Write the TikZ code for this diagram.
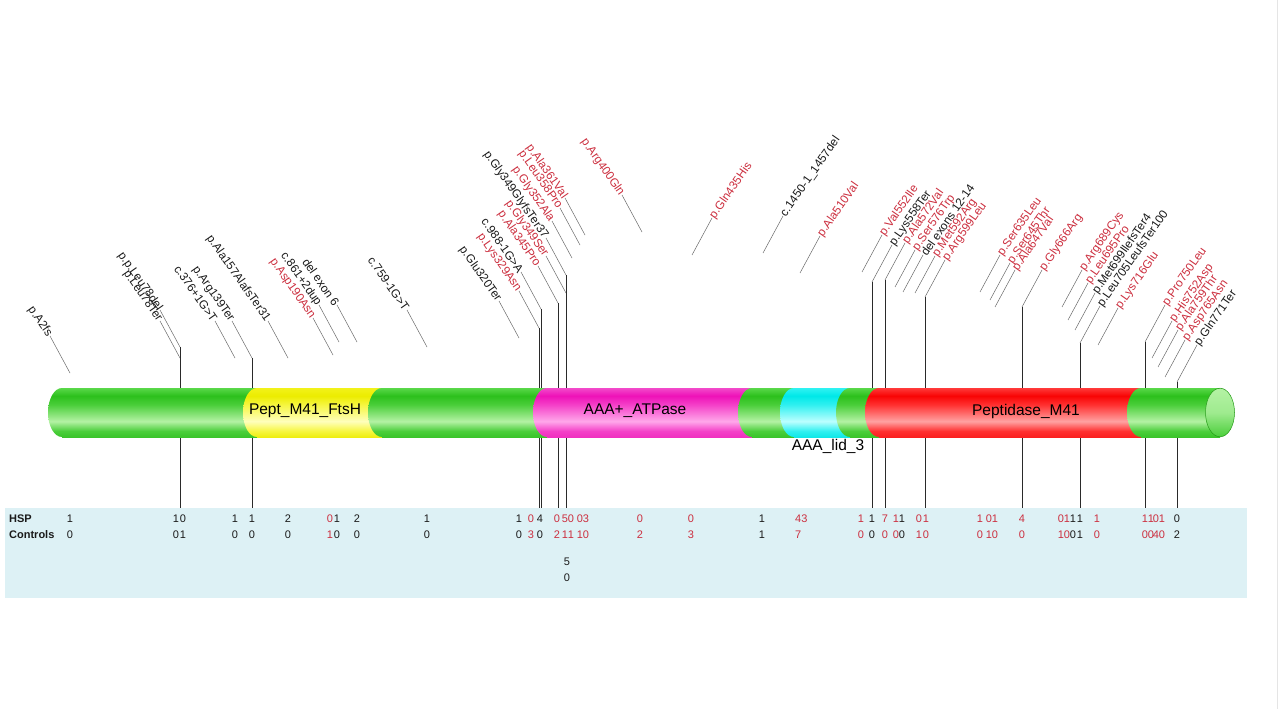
\documentclass[tikz,border=0pt]{standalone}
\usepackage{fontspec}
\setmainfont{Liberation Sans}
\newcommand\labfont{\fontsize{11.8}{14}\selectfont}
\newcommand\domfont{\fontsize{15.5}{18}\selectfont}
\newcommand\numfont{\fontsize{11}{13}\selectfont}
\definecolor{labblack}{HTML}{1A1A1A}
\definecolor{mutred}{HTML}{CC2F3F}
\definecolor{leadgray}{HTML}{6A6A6A}
\definecolor{vgray}{HTML}{2A2A2A}
\definecolor{tabbg}{HTML}{DDF1F5}
% bar colours
\definecolor{gT}{HTML}{5AD84A}\definecolor{gD}{HTML}{2CC01C}\definecolor{gM}{HTML}{4ACE3A}\definecolor{gL}{HTML}{B4F2A4}\definecolor{gB}{HTML}{3AC42A}
\definecolor{yT}{HTML}{F2F21A}\definecolor{yD}{HTML}{ECEC00}\definecolor{yM}{HTML}{F6F640}\definecolor{yL}{HTML}{FFFFBC}\definecolor{yB}{HTML}{EEEE10}
\definecolor{mT}{HTML}{F24ACA}\definecolor{mD}{HTML}{EE12B8}\definecolor{mM}{HTML}{F440C8}\definecolor{mL}{HTML}{FFA8EA}\definecolor{mB}{HTML}{F030C0}
\definecolor{cT}{HTML}{30F2F2}\definecolor{cD}{HTML}{00E8E8}\definecolor{cM}{HTML}{30F0F0}\definecolor{cL}{HTML}{BCFFFF}\definecolor{cB}{HTML}{10E8E8}
\definecolor{rT}{HTML}{FF3A3A}\definecolor{rD}{HTML}{F80404}\definecolor{rM}{HTML}{FF3030}\definecolor{rL}{HTML}{FFA2A2}\definecolor{rB}{HTML}{FA2020}
\newcommand\mkshading[1]{%
  \pgfdeclareverticalshading{sh#1}{100bp}{color(0bp)=(#1B); color(25bp)=(#1B); color(31bp)=(#1M); color(41bp)=(#1L); color(58bp)=(#1M); color(67bp)=(#1D); color(75bp)=(#1T); color(100bp)=(#1T)}}
\mkshading{g}\mkshading{y}\mkshading{m}\mkshading{c}\mkshading{r}
\tikzset{
  lead/.style={draw=leadgray, line width=0.5pt},
  vertl/.style={draw=vgray, line width=1pt},
  labL/.style={font=\labfont, rotate=-55, anchor=east, inner sep=0.5pt, text=labblack},
  labR/.style={font=\labfont, rotate=55, anchor=west, inner sep=0.5pt, text=labblack},
  mr/.style={text=mutred},
  num/.style={font=\numfont, inner sep=0pt, anchor=center, text=labblack},
  dom/.style={font=\domfont, inner sep=0pt, text=black},
}
% label reading down-right, leader from (x,y) up-left to its end
\newcommand\mutL[5][]{%
  \coordinate (#2-p) at (#3,#4);
  \node[labL,#1] (#2) at (#3-20,#4-37) {#5};
  \draw[lead] (#2-p) -- (#2.east);}
% label reading up-right, leader from (x,y) up-right to its start
\newcommand\mutR[5][]{%
  \coordinate (#2-p) at (#3,#4);
  \node[labR,#1] (#2) at (#3+20,#4-37) {#5};
  \draw[lead] (#2-p) -- (#2.west);}
\newcommand\vln[1]{\draw[vertl] (#1-p) -- (#1-p |- tabtop);}
\newcommand\seg[3]{%
  \shade[shading=sh#1] (#2,388) rectangle (#3,437);
  \shade[shading=sh#1] (#2,412.5) ellipse [x radius=14, y radius=24.5];}
\newcommand\tabe[4][]{%
  \node[num,#1] (h#2) at (#2,519) {#3};
  \node[num,#1] (c#2) at (#2,535) {#4};}
\begin{document}
\begin{tikzpicture}[x=1pt,y=-1pt]
\useasboundingbox (0,0) rectangle (1280,709);
\fill[white] (0,0) rectangle (1280,709);
\draw[gray!20, line width=0.8pt] (1277,0) -- (1277,709);
\coordinate (tabtop) at (0,508);
% table background
\fill[tabbg] (5,508) rectangle (1247,598);
% ---- left labels ----
\mutL{a2}{70}{373}{p.A2fs}
\mutL{leu78del}{180}{347}{p.p.Leu78del}
\mutL{leu78ter}{180}{358}{p.Leu78Ter}
\mutL{c376}{235}{358}{c.376+1G>T}
\mutL{arg139}{252}{358}{p.Arg139Ter}
\mutL{ala157}{288}{358}{p.Ala157AlafsTer31}
\mutL[mr]{asp190}{333}{355}{p.Asp190Asn}
\mutL{c861}{339}{342}{c.861+2dup}
\mutL{delex6}{357}{342}{del exon 6}
\mutL{c759}{427}{347}{c.759-1G>T}
\mutL{glu320}{519}{338}{p.Glu320Ter}
\mutL[mr]{lys329}{539}{328}{p.Lys329Asn}
\mutL{c988}{541}{309}{c.988-1G>A}
\mutL[mr]{ala345}{558}{303}{p.Ala345Pro}
\mutL[mr]{gly349ser}{566}{293}{p.Gly349Ser}
\mutL{gly349fs}{566}{275}{p.Gly349GlyfsTer37}
\mutL[mr]{gly352}{572}{258}{p.Gly352Ala}
\mutL[mr]{leu358}{580}{245}{p.Leu358Pro}
\mutL[mr]{ala361}{585}{235}{p.Ala361Val}
\mutL[mr]{arg400}{642}{232}{p.Arg400Gln}
% ---- right labels ----
\mutR[mr]{gln435}{692}{255}{p.Gln435His}
\mutR{c1450}{763}{253}{c.1450-1\_1457del}
\mutR[mr]{ala510}{800}{273}{p.Ala510Val}
\mutR[mr]{val552}{862}{272}{p.Val552Ile}
\mutR{lys558}{872}{282}{p.Lys558Ter}
\mutR[mr]{ala572}{885}{280}{p.Ala572Val}
\mutR[mr]{ser576}{895}{287}{p.Ser576Trp}
\mutR{delex12}{903}{292}{del exons 12-14}
\mutR[mr]{met592}{915}{293}{p.Met592Arg}
\mutR[mr]{arg599}{925}{297}{p.Arg599Leu}
\mutR[mr]{ser635}{980}{292}{p.Ser635Leu}
\mutR[mr]{ser645}{990}{300}{p.Ser645Thr}
\mutR[mr]{ala647}{995}{307}{p.Ala647Val}
\mutR[mr]{gly666}{1022}{307}{p.Gly666Arg}
\mutR[mr]{arg689}{1062}{307}{p.Arg689Cys}
\mutR[mr]{leu695}{1068}{320}{p.Leu695Pro}
\mutR{met699}{1075}{330}{p.Met699IlefsTer4}
\mutR{leu705}{1080}{343}{p.Leu705LeufsTer100}
\mutR[mr]{lys716}{1098}{345}{p.Lys716Glu}
\mutR[mr]{pro750}{1145}{342}{p.Pro750Leu}
\mutR[mr]{his752}{1152}{358}{p.His752Asp}
\mutR[mr]{ala759}{1158}{367}{p.Ala759Thr}
\mutR[mr]{asp765}{1165}{377}{p.Asp765Asn}
\mutR{gln771}{1177}{382}{p.Gln771Ter}
% ---- vertical connectors ----
\vln{leu78del}\vln{arg139}\vln{lys329}\vln{c988}\vln{ala345}\vln{gly349fs}
\vln{lys558}\vln{ala572}\vln{arg599}\vln{gly666}\vln{leu705}\vln{pro750}\vln{gln771}
% ---- protein bar ----
\seg{g}{62}{262}
\seg{y}{257}{386}
\seg{g}{382}{550}
\seg{m}{547}{760}
\seg{g}{752}{798}
\seg{c}{794}{855}
\seg{g}{850}{882}
\seg{r}{879}{1145}
\seg{g}{1141}{1220}
\shade[top color=gL, bottom color=gM, middle color=gL!80!gM, draw=gD!80!black, line width=0.5pt] (1220,412.5) ellipse [x radius=14.5, y radius=24.3];
\node[dom] (d1) at (305,411) {Pept\_M41\_FtsH};
\node[dom] (d2) at (635,411) {AAA+\_ATPase};
\node[dom] (d3) at (1026,411) {Peptidase\_M41};
\node[dom] (d4) at (828,446) {AAA\_lid\_3};
% ---- table ----
\node[font=\numfont\bfseries, anchor=west, inner sep=0pt, text=labblack] (hsp) at (9,519) {HSP};
\node[font=\numfont\bfseries, anchor=west, inner sep=0pt, text=labblack] (ctl) at (9,535) {Controls};
\tabe{70}{1}{0}
\tabe{176}{1}{0}
\tabe{183}{0}{1}
\tabe{235}{1}{0}
\tabe{252}{1}{0}
\tabe{288}{2}{0}
\tabe[mr]{330}{0}{1}
\tabe{337}{1}{0}
\tabe{357}{2}{0}
\tabe{427}{1}{0}
\tabe{519}{1}{0}
\tabe[mr]{531}{0}{3}
\tabe{540}{4}{0}
\tabe[mr]{557}{0}{2}
\tabe[mr]{565}{5}{1}
\tabe[mr]{571}{0}{1}
\tabe[mr]{580}{0}{1}
\tabe[mr]{586}{3}{0}
\node[num] (h567b) at (567,562) {5};
\node[num] (c567b) at (567,578) {0};
\tabe[mr]{640}{0}{2}
\tabe[mr]{691}{0}{3}
\tabe{762}{1}{1}
\node[num,mr,anchor=west] (h795) at (795,519) {43};
\node[num,mr,anchor=west] (c795) at (795,535) {7};
\tabe[mr]{861}{1}{0}
\tabe{872}{1}{0}
\tabe[mr]{885}{7}{0}
\tabe[mr]{896}{1}{0}
\tabe{902}{1}{0}
\tabe[mr]{919}{0}{1}
\tabe[mr]{926}{1}{0}
\tabe[mr]{980}{1}{0}
\tabe[mr]{989}{0}{1}
\tabe[mr]{995}{1}{0}
\tabe[mr]{1022}{4}{0}
\tabe[mr]{1061}{0}{1}
\tabe[mr]{1067}{1}{0}
\tabe{1073}{1}{0}
\tabe{1080}{1}{1}
\tabe[mr]{1097}{1}{0}
\tabe[mr]{1145}{1}{0}
\tabe[mr]{1151}{1}{0}
\tabe[mr]{1156}{0}{4}
\tabe[mr]{1162}{1}{0}
\tabe{1177}{0}{2}
\end{tikzpicture}
\end{document}
